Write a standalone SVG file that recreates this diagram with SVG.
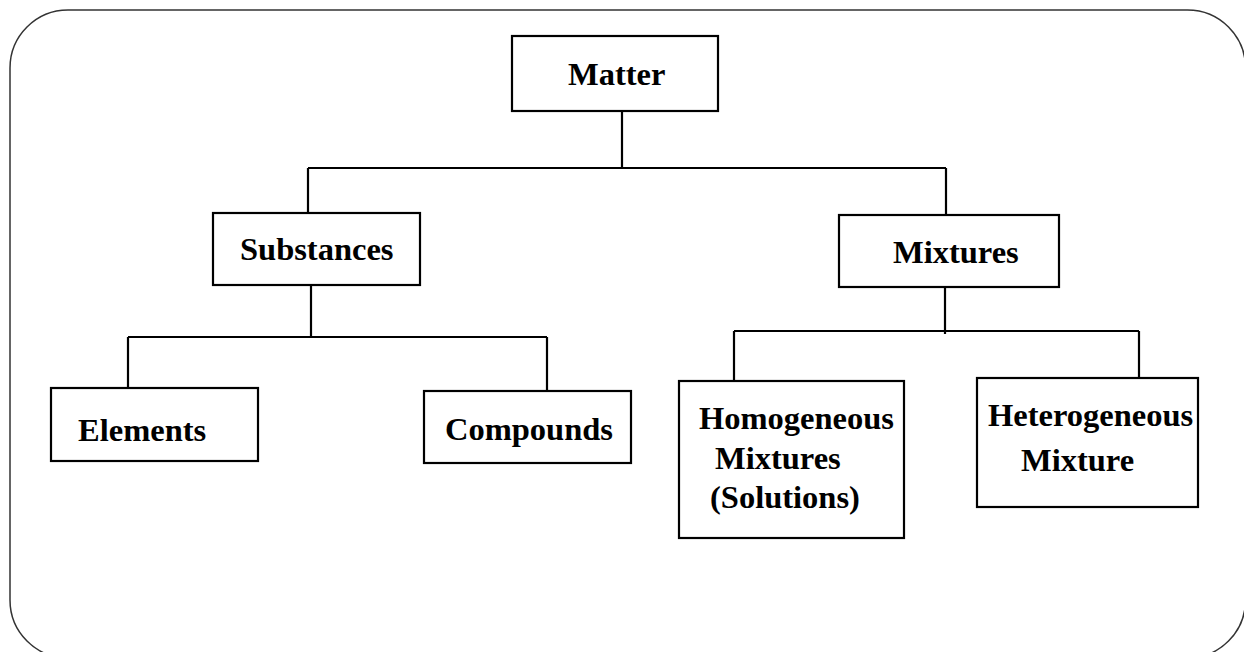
<svg xmlns="http://www.w3.org/2000/svg" width="1244" height="652" viewBox="0 0 1244 652">
<style>
.box{fill:#fff;stroke:#000;stroke-width:2.2}
.lbl{font-family:"Liberation Serif","Times New Roman",serif;font-weight:bold;font-size:32.5px;fill:#000}
.con{fill:none;stroke:#000;stroke-width:2.2}
</style>
<rect x="10" y="10" width="1235.5" height="648" rx="58" ry="58" fill="#fff" stroke="#333" stroke-width="1.5"/>
<g id="connectors">
<path class="con" d="M622,111 V168 M308,168 H946 M308,168 V213 M946,168 V215"/>
<path class="con" d="M311,285 V337 M128,337 H547 M128,337 V388 M547,337 V391"/>
<path class="con" d="M945,287 V334 M734,331 H1139 M734,331 V381 M1139,331 V381"/>
</g>
<g id="matter"><rect class="box" x="512" y="36" width="206" height="75"/><text class="lbl" x="568" y="85">Matter</text></g>
<g id="substances"><rect class="box" x="213" y="213" width="207" height="72"/><text class="lbl" x="240" y="260">Substances</text></g>
<g id="mixtures"><rect class="box" x="839" y="215" width="220" height="72"/><text class="lbl" x="893" y="263">Mixtures</text></g>
<g id="elements"><rect class="box" x="51" y="388" width="207" height="73"/><text class="lbl" x="78" y="441">Elements</text></g>
<g id="compounds"><rect class="box" x="424" y="391" width="207" height="72"/><text class="lbl" x="445" y="440">Compounds</text></g>
<g id="homogeneous"><rect class="box" x="679" y="381" width="225" height="157"/><text class="lbl"><tspan x="699" y="429">Homogeneous</tspan><tspan x="715" y="469">Mixtures</tspan><tspan x="710" y="508">(Solutions)</tspan></text></g>
<g id="heterogeneous"><rect class="box" x="977" y="378" width="221" height="129"/><text class="lbl"><tspan x="988" y="426">Heterogeneous</tspan><tspan x="1021" y="471">Mixture</tspan></text></g>
</svg>
